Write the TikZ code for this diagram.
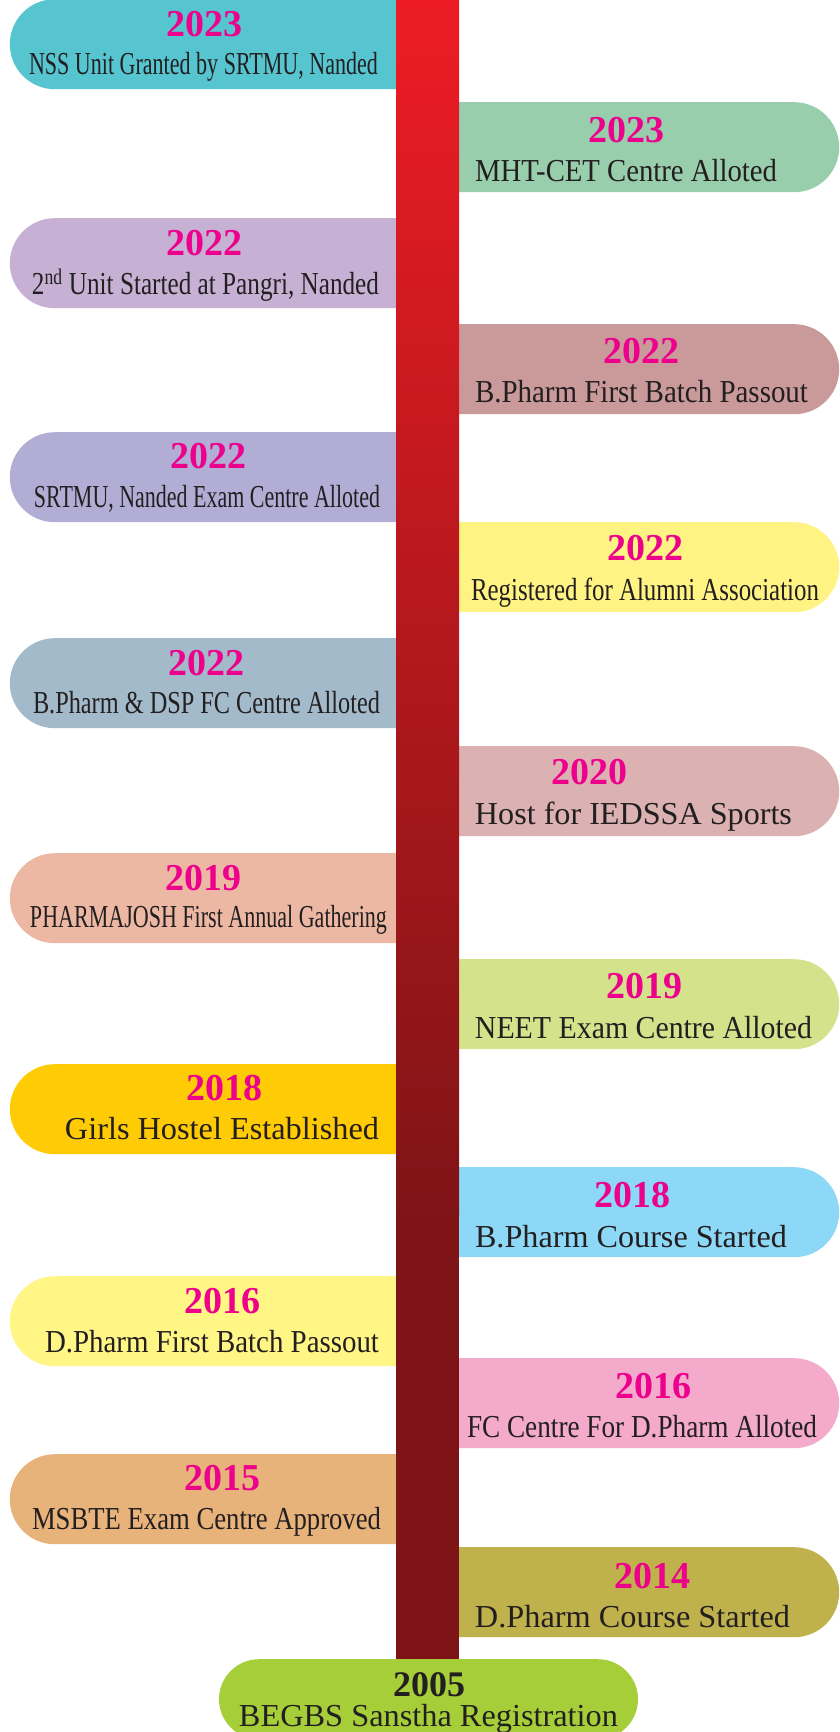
\documentclass[tikz,border=0pt]{standalone}
\usepackage{fontspec}
\setmainfont{Liberation Serif}
\usepackage{graphicx}
\usetikzlibrary{shapes.misc}
\definecolor{bartop}{HTML}{ED1C24}
\definecolor{barbot}{HTML}{7F1416}
\definecolor{yearpink}{HTML}{EC008C}
\definecolor{evtext}{HTML}{231F20}
\definecolor{cnss}{HTML}{56C5D0}
\definecolor{ccet}{HTML}{98CEAB}
\definecolor{cpangri}{HTML}{C6B1D5}
\definecolor{cbpbatch}{HTML}{CA999A}
\definecolor{csrtmu}{HTML}{B1ADD5}
\definecolor{calumni}{HTML}{FFF384}
\definecolor{cdsp}{HTML}{A3BACA}
\definecolor{csports}{HTML}{DBB1B2}
\definecolor{cjosh}{HTML}{ECB8A3}
\definecolor{cneet}{HTML}{D3E28B}
\definecolor{chostel}{HTML}{FFCB05}
\definecolor{cbpcourse}{HTML}{8DD8F7}
\definecolor{cdpbatch}{HTML}{FFF685}
\definecolor{cfc}{HTML}{F4AACB}
\definecolor{cmsbte}{HTML}{E8B27B}
\definecolor{cdpcourse}{HTML}{BFB14B}
\definecolor{cbegbs}{HTML}{A6CE39}
\tikzstyle{lbox}=[rounded rectangle,rounded rectangle east arc=none,minimum height=90pt,minimum width=386pt,inner sep=0pt,anchor=north east]
\tikzstyle{rbox}=[rounded rectangle,rounded rectangle west arc=none,minimum height=90pt,minimum width=380pt,inner sep=0pt,anchor=north west]
\tikzstyle{yr}=[text=yearpink,font=\bfseries\fontsize{38}{40}\selectfont,anchor=base,inner sep=0pt]
\tikzstyle{ev}=[text=evtext,font=\fontsize{32}{34}\selectfont,anchor=base,inner sep=0pt]
\newcommand{\evline}[2]{\resizebox{#1pt}{\height}{#2}}

\begin{document}
\begin{tikzpicture}[x=1pt,y=-1pt]
\useasboundingbox (0,0) rectangle (839,1732);
% left side
\node [lbox,fill=cnss] (nss) at (396,-1) {};
\node [yr] (nssyr) at (204,36) {2023};
\node [ev] (nssev) at (203.5,74) {\evline{349}{NSS Unit Granted by SRTMU, Nanded}};
\node [lbox,fill=cpangri] (pangri) at (396,218) {};
\node [yr] (pangriyr) at (204,255) {2022};
\node [ev] (pangriev) at (205.5,294) {\evline{347}{2\textsuperscript{nd} Unit Started at Pangri, Nanded}};
\node [lbox,fill=csrtmu] (srtmu) at (396,432) {};
\node [yr] (srtmuyr) at (208,468) {2022};
\node [ev] (srtmuev) at (207,507) {\evline{346}{SRTMU, Nanded Exam Centre Alloted}};
\node [lbox,fill=cdsp] (dsp) at (396,638) {};
\node [yr] (dspyr) at (206,675) {2022};
\node [ev] (dspev) at (206.5,713) {\evline{347}{B.Pharm \& DSP FC Centre Alloted}};
\node [lbox,fill=cjosh] (josh) at (396,853) {};
\node [yr] (joshyr) at (203,890) {2019};
\node [ev] (joshev) at (208.5,927) {\evline{357}{PHARMAJOSH First Annual Gathering}};
\node [lbox,fill=chostel] (hostel) at (396,1064) {};
\node [yr] (hostelyr) at (224,1100) {2018};
\node [ev] (hostelev) at (222,1139) {\evline{314}{Girls Hostel Established}};
\node [lbox,fill=cdpbatch] (dpbatch) at (396,1276) {};
\node [yr] (dpbatchyr) at (222,1313) {2016};
\node [ev] (dpbatchev) at (212,1352) {\evline{334}{D.Pharm First Batch Passout}};
\node [lbox,fill=cmsbte] (msbte) at (396,1454) {};
\node [yr] (msbteyr) at (222,1490) {2015};
\node [ev] (msbteev) at (206.5,1529) {\evline{349}{MSBTE Exam Centre Approved}};
% right side
\node [rbox,fill=ccet] (cet) at (459,102) {};
\node [yr] (cetyr) at (626,142) {2023};
\node [ev] (cetev) at (626,181) {\evline{302}{MHT-CET Centre Alloted}};
\node [rbox,fill=cbpbatch] (bpbatch) at (459,324) {};
\node [yr] (bpbatchyr) at (641,363) {2022};
\node [ev] (bpbatchev) at (641.5,402) {\evline{333}{B.Pharm First Batch Passout}};
\node [rbox,fill=calumni] (alumni) at (459,522) {};
\node [yr] (alumniyr) at (645,560) {2022};
\node [ev] (alumniev) at (645,600) {\evline{348}{Registered for Alumni Association}};
\node [rbox,fill=csports] (sports) at (459,746) {};
\node [yr] (sportsyr) at (589,784) {2020};
\node [ev] (sportsev) at (633.5,824) {\evline{317}{Host for IEDSSA Sports}};
\node [rbox,fill=cneet] (neet) at (459,959) {};
\node [yr] (neetyr) at (644,998) {2019};
\node [ev] (neetev) at (643.5,1038) {\evline{337}{NEET Exam Centre Alloted}};
\node [rbox,fill=cbpcourse] (bpcourse) at (459,1167) {};
\node [yr] (bpcourseyr) at (632,1207) {2018};
\node [ev] (bpcourseev) at (631,1247) {\evline{312}{B.Pharm Course Started}};
\node [rbox,fill=cfc] (fc) at (459,1358) {};
\node [yr] (fcyr) at (653,1398) {2016};
\node [ev] (fcev) at (642,1437) {\evline{350}{FC Centre For D.Pharm Alloted}};
\node [rbox,fill=cdpcourse] (dpcourse) at (459,1547) {};
\node [yr] (dpcourseyr) at (652,1588) {2014};
\node [ev] (dpcourseev) at (632.5,1627) {\evline{315}{D.Pharm Course Started}};
% the bar
\shade [top color=bartop,bottom color=barbot] (396,0) rectangle (459,1215);
\fill [barbot] (396,1214) rectangle (459,1659);
% start
\node [rounded rectangle,minimum height=80pt,minimum width=419pt,inner sep=0pt,anchor=north,fill=cbegbs] (begbs) at (428.5,1659) {};
\node [yr,text=evtext,font=\bfseries\fontsize{36}{38}\selectfont] (begbsyr) at (429,1696) {2005};
\node [ev] (begbsev) at (428.5,1726) {\evline{379}{BEGBS Sanstha Registration}};
\end{tikzpicture}
\end{document}
